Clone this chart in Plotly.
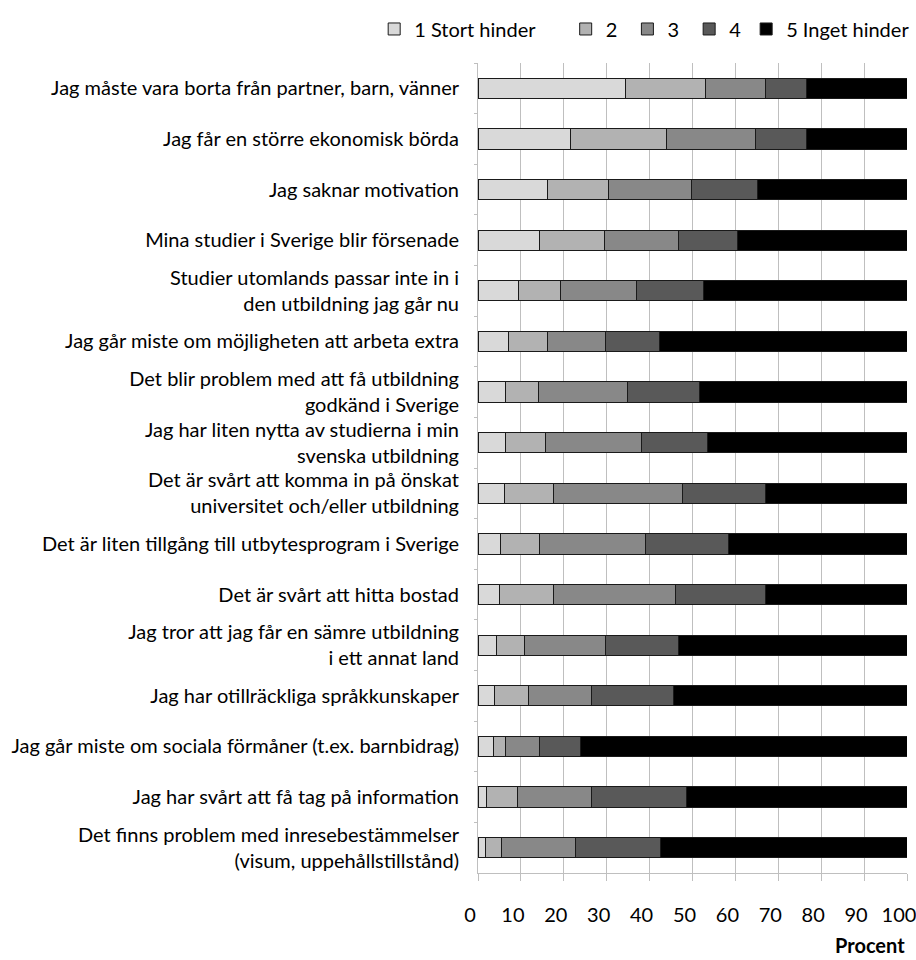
import plotly.graph_objects as go

categories = [
    "Jag måste vara borta från partner, barn, vänner",
    "Jag får en större ekonomisk börda",
    "Jag saknar motivation",
    "Mina studier i Sverige blir försenade",
    "Studier utomlands passar inte in i<br>den utbildning jag går nu",
    "Jag går miste om möjligheten att arbeta extra",
    "Det blir problem med att få utbildning<br>godkänd i Sverige",
    "Jag har liten nytta av studierna i min<br>svenska utbildning",
    "Det är svårt att komma in på önskat<br>universitet och/eller utbildning",
    "Det är liten tillgång till utbytesprogram i Sverige",
    "Det är svårt att hitta bostad",
    "Jag tror att jag får en sämre utbildning<br>i ett annat land",
    "Jag har otillräckliga språkkunskaper",
    "Jag går miste om sociala förmåner (t.ex. barnbidrag)",
    "Jag har svårt att få tag på information",
    "Det finns problem med inresebestämmelser<br>(visum, uppehållstillstånd)",
]

series_names = ["1 Stort hinder", "2", "3", "4", "5 Inget hinder"]

s1 = [34.4, 21.5, 16.2, 14.4, 9.5, 7.1, 6.4, 6.3, 6.1, 5.2, 4.9, 4.3, 3.8, 3.6, 1.9, 1.7]
s2 = [18.7, 22.5, 14.2, 15.2, 9.7, 9.1, 7.7, 9.5, 11.4, 9.2, 12.8, 6.6, 7.9, 2.9, 7.3, 3.7]
s3 = [13.9, 20.7, 19.4, 17.1, 17.7, 13.5, 20.7, 22.2, 30.2, 24.7, 28.4, 18.8, 14.8, 7.8, 17.3, 17.3]
s4 = [9.5, 11.9, 15.4, 13.7, 15.7, 12.6, 16.9, 15.5, 19.3, 19.3, 21.0, 17.1, 19.0, 9.7, 22.1, 19.8]
s5 = [23.5, 23.4, 34.8, 39.6, 47.4, 57.7, 48.3, 46.5, 33.0, 41.6, 32.9, 53.2, 54.5, 76.0, 51.4, 57.5]

series_values = [s1, s2, s3, s4, s5]
colors = ["#d9d9d9", "#b2b2b2", "#888888", "#595959", "#000000"]

x_ticks = [0, 10, 20, 30, 40, 50, 60, 70, 80, 90, 100]

FONT = "Lato"
FS = 20
NB = "\u00a0"
legend_pad = [NB * 5, NB, NB, "", ""]

fig = go.Figure()
for name, vals, col, pad in zip(series_names, series_values, colors, legend_pad):
    fig.add_trace(go.Bar(
        y=categories, x=vals, name=name + pad, orientation="h",
        marker=dict(color=col, line=dict(color="#1a1a1a", width=1)),
    ))

fig.update_layout(
    barmode="stack",
    bargap=0.6,
    width=916, height=960,
    margin=dict(l=478, r=9, t=61, b=87),
    paper_bgcolor="white", plot_bgcolor="white",
    font=dict(family=FONT, size=FS, color="#000000"),
    legend=dict(
        orientation="h", x=-0.242, xanchor="left", y=1.042, yanchor="middle",
        font=dict(size=FS), traceorder="normal",
        itemwidth=30,
    ),
    xaxis=dict(
        range=[0, 100], tickvals=x_ticks, ticktext=[str(v) for v in x_ticks],
        showgrid=True, gridcolor="#bfbfbf", gridwidth=1,
        showline=True, linecolor="#bfbfbf", linewidth=1,
        ticks="outside", ticklen=7, tickcolor="#bfbfbf",
        tickfont=dict(size=FS), zeroline=False, automargin=False,
        ticklabelstandoff=17, ticklabelshift=-8, ticklabeloverflow="allow",
    ),
    yaxis=dict(
        autorange="reversed", showgrid=False,
        showline=True, linecolor="#bfbfbf", linewidth=1,
        ticks="outside", ticklen=3, tickcolor="#bfbfbf", tickson="boundaries",
        tickfont=dict(size=FS), ticklabelstandoff=14, automargin=False,
    ),
    annotations=[dict(
        text="<b>Procent</b>", x=1, xref="paper", xanchor="right",
        y=0, yref="paper", yanchor="middle", yshift=-72,
        showarrow=False, font=dict(size=FS),
    )],
)

fig.write_html("out.html", config={"displayModeBar": False},
               post_script="document.body.style.margin='0';")
